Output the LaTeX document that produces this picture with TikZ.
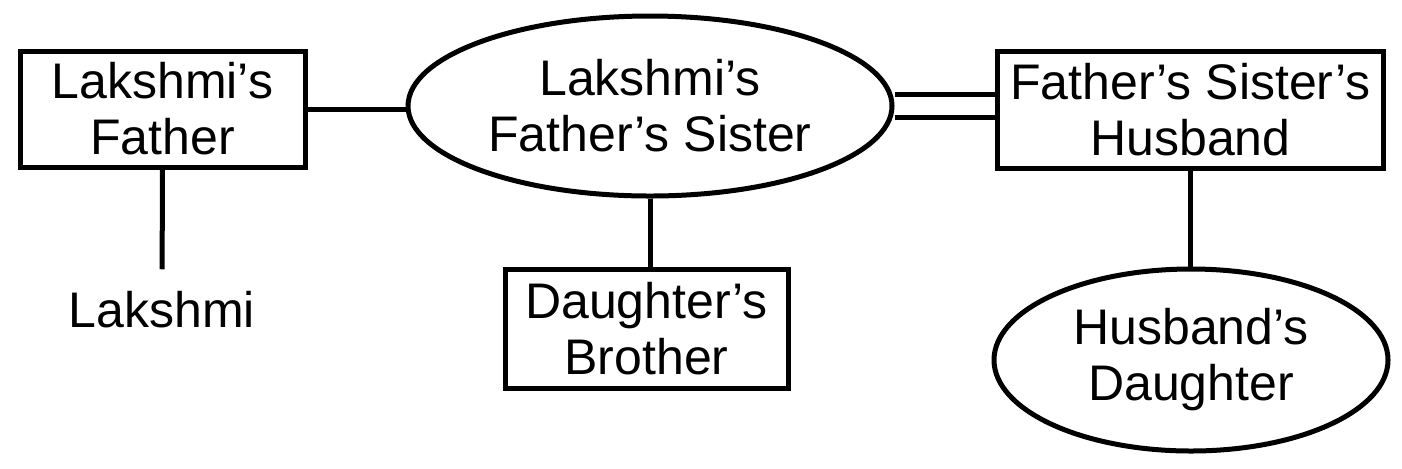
\documentclass[tikz,border=0pt]{standalone}
\usepackage{fontspec}
\setmainfont{Liberation Sans}
\usetikzlibrary{shapes.geometric,backgrounds}

\tikzset{
    kin/.style={draw, fill=white, line width=2.5pt, align=center, inner sep=0pt,
        font=\fontsize{25}{28}\selectfont},
    kinbox/.style={kin, rectangle},
    kinoval/.style={kin, ellipse},
    tie/.style={line width=2.5pt},
}

\begin{document}
\begin{tikzpicture}[x=0.5pt, y=-0.5pt]

    \useasboundingbox (0,0) rectangle (1402,468);

    \node[kinbox, minimum width=142.5pt, minimum height=58pt]
        (father) at (162.5,109) {Lakshmi’s\\Father};
    \node[kinoval, minimum width=242pt, minimum height=90pt]
        (sister) at (650,106) {Lakshmi’s\\Father’s Sister};
    \node[kinbox, minimum width=193pt, minimum height=58.5pt]
        (husband) at (1190.5,109.5) {Father’s Sister’s\\Husband};
    \node[kinbox, minimum width=141.5pt, minimum height=59.5pt]
        (brother) at (646.5,328.5) {Daughter’s\\Brother};
    \node[kinoval, minimum width=197pt, minimum height=91pt]
        (hdaughter) at (1191,360) {Husband’s\\Daughter};
    \node[font=\fontsize{25}{28}\selectfont, inner sep=0pt]
        (lakshmi) at (162,310) {Lakshmi};

    \begin{scope}[on background layer]
        \draw[tie] (father.east) -- (father.east -| sister.west);
        \draw[tie, double, double distance=9pt] (sister.east) -- (sister.east -| husband.west);
        \draw[tie, shorten >=11pt] (father.south) -- (lakshmi.north);
        \draw[tie] (sister.south) -- (sister.south |- brother.north);
        \draw[tie] (husband.south) -- (husband.south |- hdaughter.north);
    \end{scope}

\end{tikzpicture}
\end{document}
